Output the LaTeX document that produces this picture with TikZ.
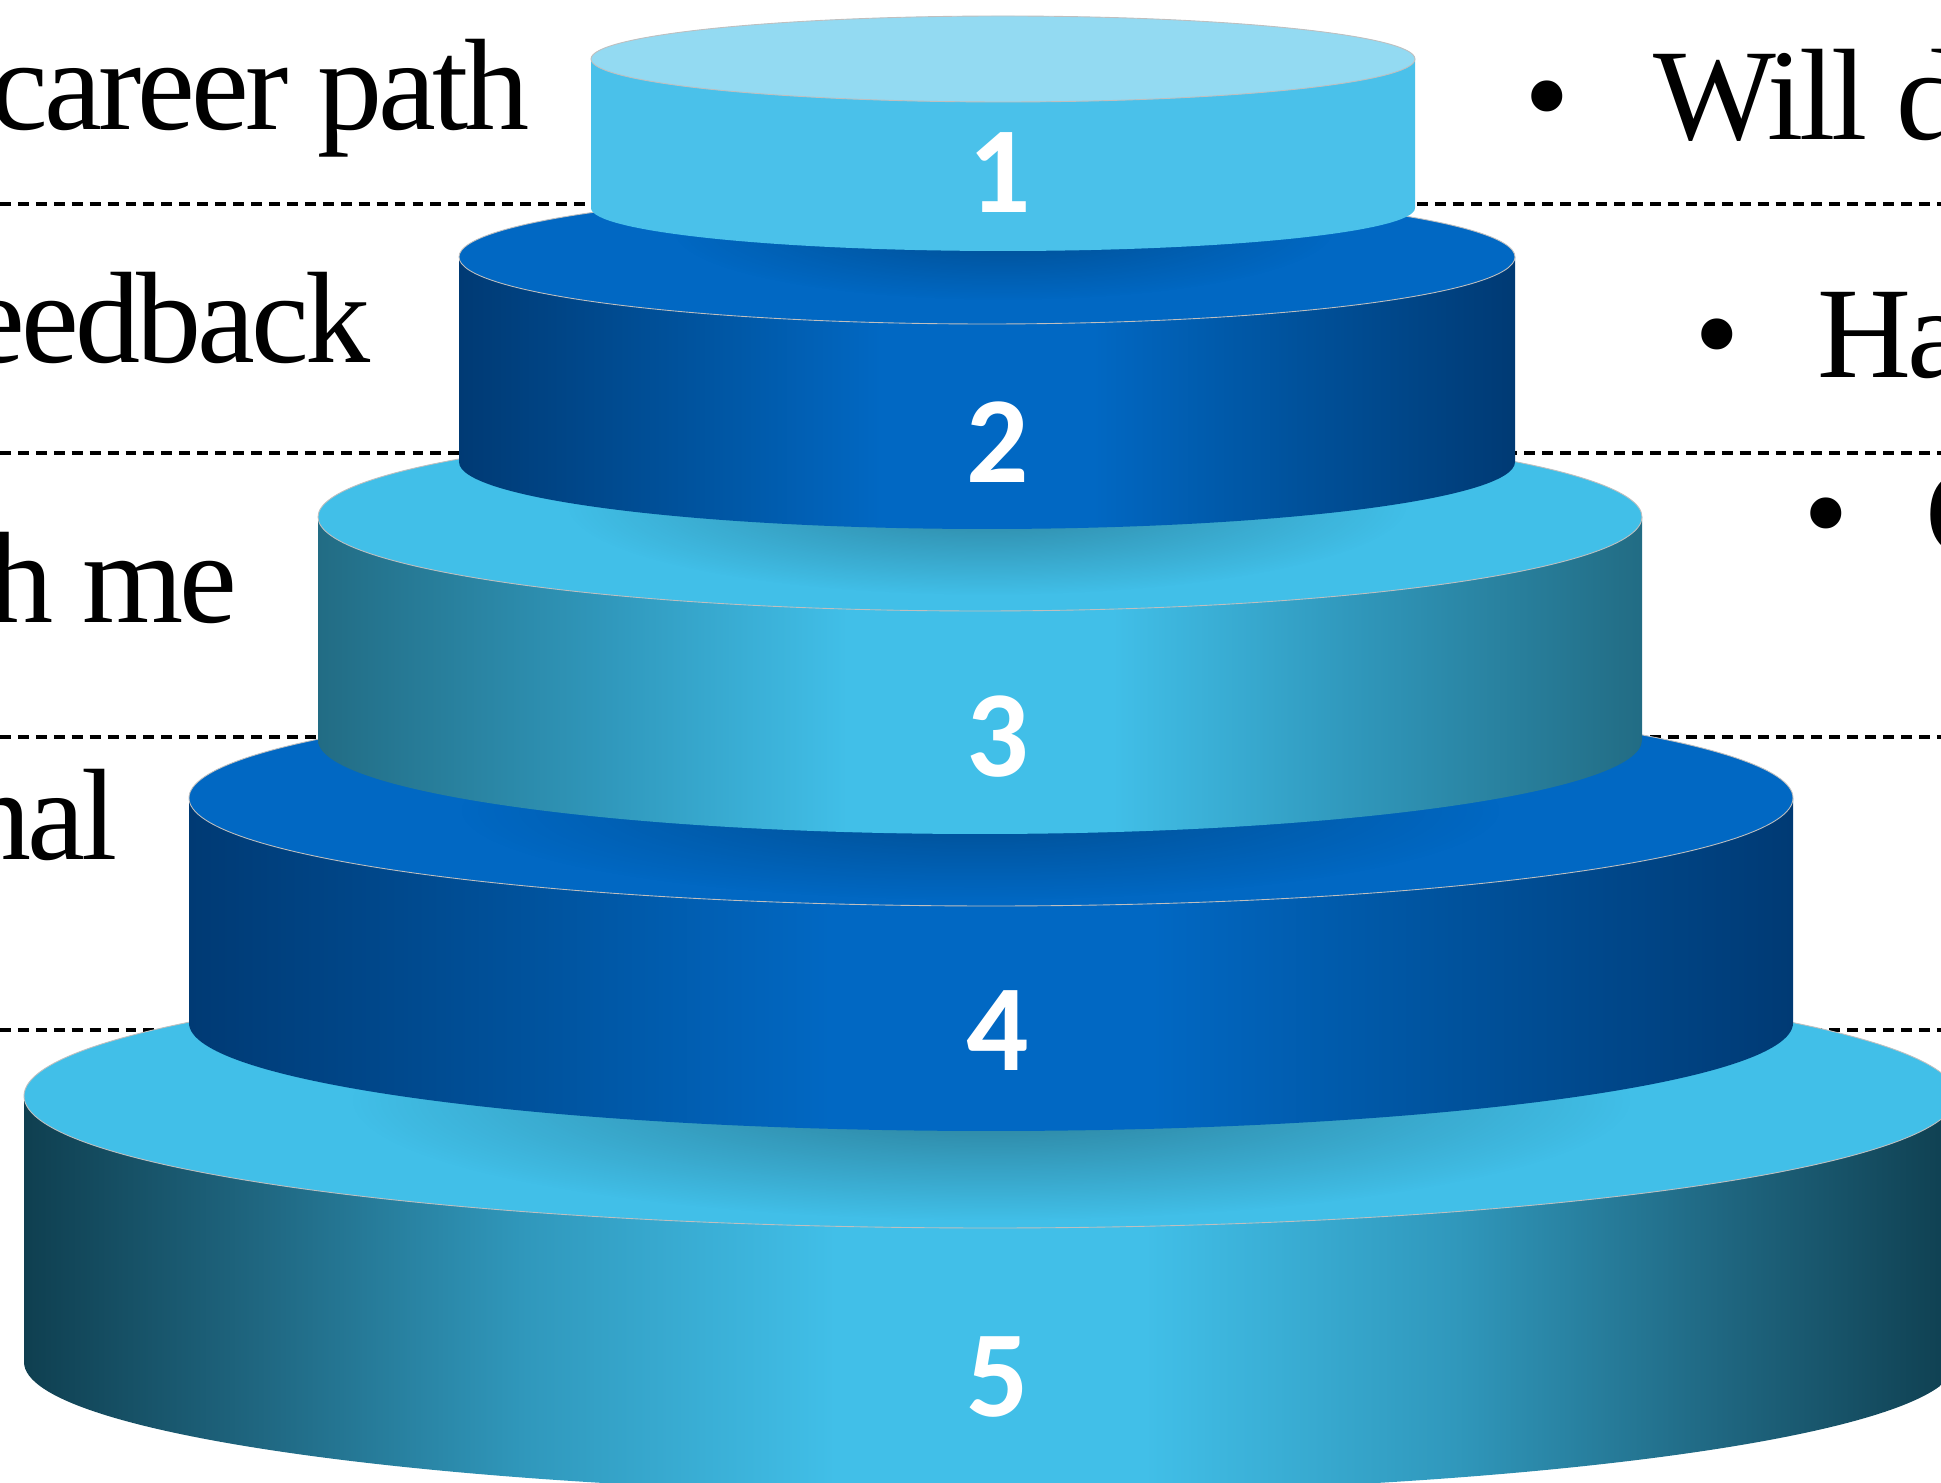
\documentclass[tikz,border=0pt]{standalone}
\usepackage{fontspec}
\setmainfont{Liberation Serif}
\newfontfamily\numfont{Carlito}
\usetikzlibrary{fadings}

\definecolor{topone}{HTML}{93DAF2}
\definecolor{sideone}{HTML}{4AC1EA}
\definecolor{topblue}{HTML}{0168C3}
\definecolor{topteal}{HTML}{41BFE8}
\definecolor{blueedge}{HTML}{003A74}
\definecolor{bluemid}{HTML}{00539E}
\definecolor{tealedge}{HTML}{226C84}
\definecolor{tealmid}{HTML}{3098BC}
\definecolor{deepedge}{HTML}{0F3F50}
\definecolor{deepmid}{HTML}{1F6680}

\pgfdeclarehorizontalshading{bluewall}{100bp}{color(0bp)=(blueedge); color(25bp)=(blueedge); color(36bp)=(bluemid); color(45bp)=(topblue); color(55bp)=(topblue); color(64bp)=(bluemid); color(75bp)=(blueedge); color(100bp)=(blueedge)}
\pgfdeclarehorizontalshading{tealwall}{100bp}{color(0bp)=(tealedge); color(25bp)=(tealedge); color(36bp)=(tealmid); color(45bp)=(topteal); color(55bp)=(topteal); color(64bp)=(tealmid); color(75bp)=(tealedge); color(100bp)=(tealedge)}
\pgfdeclarehorizontalshading{deepwall}{100bp}{color(0bp)=(deepedge); color(25bp)=(deepedge); color(31bp)=(deepmid); color(38bp)=(tealmid); color(46bp)=(topteal); color(54bp)=(topteal); color(62bp)=(tealmid); color(69bp)=(deepmid); color(75bp)=(deepedge); color(100bp)=(deepedge)}
\pgfdeclarehorizontalshading{onewall}{100bp}{color(0bp)=(sideone); color(100bp)=(sideone)}
\tikzfading[name=softdrop, inner color=transparent!0, outer color=transparent!100]

\tikzset{
  rowline/.style={black, line width=0.9pt, dash pattern=on 3.1pt off 2pt},
  rim/.style={draw=black!25, line width=0.25pt},
  num/.style={text=white, inner sep=0pt, font=\numfont\bfseries\fontsize{35}{35}\selectfont},
  rowfont/.style={font=\addfontfeature{LetterSpace=-3}\fontsize{37}{40}\selectfont},
  lefttext/.style={rowfont, anchor=base east, inner sep=0pt},
  righttext/.style={rowfont, anchor=base west, inner sep=0pt},
  dot/.style={rowfont, anchor=base, inner sep=0pt}
}

\begin{document}
\begin{tikzpicture}[x=0.01cm, y=-0.01cm]
\useasboundingbox (0,0) rectangle (1941,1483);
% row separators, behind the tiers
\draw[rowline] (0,204) -- (1941,204);
\draw[rowline] (0,453) -- (1941,453);
\draw[rowline] (0,737) -- (1941,737);
\draw[rowline] (0,1030) -- (1941,1030);

% tiers, bottom first: cx/rx/top/bottom/ry/top colour/wall/shadow x,y,rx,ry,opacity
\foreach \cx/\rx/\yt/\yb/\ry/\tc/\wall/\sx/\sy/\srx/\sry/\so in {
    990/966/1096/1362/132/topteal/deepwall/991/1100/640/120/0.35,
    991/802/798/1023/108/topblue/bluewall/980/810/520/90/0.25,
    980/662/517/740/94/topteal/tealwall/987/505/420/90/0.3,
    987/528/257/462/67/topblue/bluewall/1003/230/330/70/0.25,
    1003/412/59/208/43/topone/onewall/1003/59/10/10/0}{
  \shade[shading=\wall] (\cx-\rx,\yt) -- (\cx-\rx,\yb)
      arc[start angle=180, end angle=0, x radius=\rx, y radius=\ry]
      -- (\cx+\rx,\yt) -- cycle;
  \fill[\tc] (\cx,\yt) ellipse[x radius=\rx, y radius=\ry];
  \begin{scope}
    \clip (\cx,\yt) ellipse[x radius=\rx, y radius=\ry];
    \fill[black, opacity=\so, path fading=softdrop] (\sx,\sy) ellipse[x radius=\srx, y radius=\sry];
  \end{scope}
  \draw[rim] (\cx,\yt) ellipse[x radius=\rx, y radius=\ry];
}

% tier numbers
\node[num] (n1) at (1000,173) {1};
\node[num] (n2) at (998,442) {2};
\node[num] (n3) at (998,737) {3};
\node[num] (n4) at (998,1031) {4};
\node[num] (n5) at (998,1377) {5};

% left column
\node[lefttext] (l1) at (530,130) {career path};
\node[lefttext] (l2) at (371,363) {eedback};
\node[lefttext] (l3) at (238,623) {h me};
\node[lefttext] (l4) at (118,860) {nal};

% right column
\node[dot] (b1) at (1547,140) {•};
\node[righttext] (r1) at (1653,140) {Will d};
\node[dot] (b2) at (1717,378) {•};
\node[righttext] (r2) at (1817,378) {Ha};
\node[dot] (b3) at (1826,557) {•};
\node[righttext] (r3) at (1925,557) {C};
\end{tikzpicture}
\end{document}
